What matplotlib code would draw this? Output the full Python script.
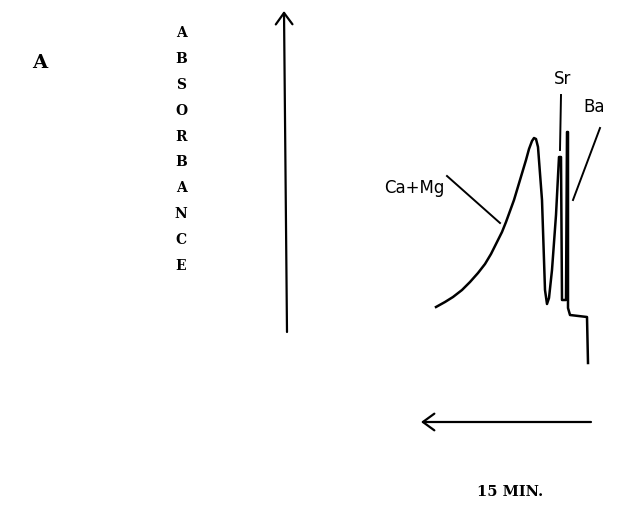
import matplotlib
matplotlib.use('Agg')
import matplotlib.pyplot as plt

# =========================
# chromatogram trace (pixel units)
# =========================
trace_x = [436, 445, 453, 462, 470, 478, 485, 491, 497, 502, 506, 510, 514, 517,
           520, 523, 526, 529, 532, 534, 536, 538, 542, 545, 547, 549, 552, 556,
           559, 561, 562, 566, 567, 568, 568, 570, 587, 588]
trace_y = [307, 302, 297, 290, 282, 273, 264, 254, 242, 232, 222, 211, 200, 190,
           180, 170, 160, 149, 141, 138, 139, 147, 200, 290, 304, 298, 270, 215,
           157, 157, 300, 300, 132, 132, 308, 315, 317, 363]

# peak labels: text, label position, pointer start, pointer end
peak_labels = ['Ca+Mg', 'Sr', 'Ba']
label_pos = [(414, 188), (563, 79), (594, 107)]
pointer_start = [(447, 176), (561, 95), (600, 128)]
pointer_end = [(500, 223), (560, 150), (573, 200)]

ylabel_letters = list('ABSORBANCE')

fig = plt.figure(figsize=(6.34, 5.07), dpi=100)
ax = fig.add_axes([0, 0, 1, 1])
ax.set_xlim(0, 634)
ax.set_ylim(507, 0)
ax.axis('off')

# trace
ax.plot(trace_x, trace_y, color='black', lw=1.8, solid_joinstyle='round')

# labels + pointer lines
for name, (tx, ty), (x0, y0), (x1, y1) in zip(peak_labels, label_pos,
                                              pointer_start, pointer_end):
    ax.text(tx, ty, name, ha='center', va='center', fontsize=12,
            family='DejaVu Sans')
    ax.plot([x0, x1], [y0, y1], color='black', lw=1.4)

# vertical absorbance arrow
ax.annotate('', xy=(284, 11), xytext=(287, 332),
            arrowprops=dict(arrowstyle='->,head_length=0.55,head_width=0.4',
                            color='black', lw=1.6, mutation_scale=15,
                            shrinkA=0, shrinkB=0))

# horizontal time arrow
ax.annotate('', xy=(421, 422), xytext=(591, 422),
            arrowprops=dict(arrowstyle='->,head_length=0.55,head_width=0.4',
                            color='black', lw=1.6, mutation_scale=15,
                            shrinkA=0, shrinkB=0))

# stacked axis label
y0, dy = 33, 25.9
for i, ch in enumerate(ylabel_letters):
    ax.text(181, y0 + i * dy, ch, ha='center', va='center', fontsize=10,
            family='DejaVu Serif', fontweight='bold')

ax.text(40, 63, 'A', ha='center', va='center', fontsize=14,
        family='DejaVu Serif', fontweight='bold')
ax.text(510, 492, '15 MIN.', ha='center', va='center', fontsize=10.5,
        family='DejaVu Serif', fontweight='bold')

fig.savefig('out.png', dpi=100)
